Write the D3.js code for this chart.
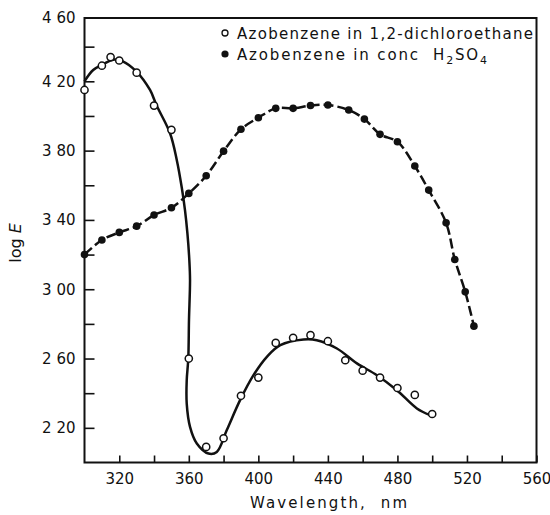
<!DOCTYPE html>
<html>
<head>
<meta charset="utf-8">
<script src="https://cdn.jsdelivr.net/npm/d3@7/dist/d3.min.js"></script>
<style>
  body { margin: 0; background: #fff; }
  svg text { font-family: "DejaVu Sans", sans-serif; fill: #111; }
</style>
</head>
<body>
<div id="chart"></div>
<script>
// open circles: azobenzene in 1,2-dichloroethane
var dceNm  = [300, 310, 315, 320, 330, 340, 350, 360, 370, 380, 390, 400, 410, 420, 430, 440, 450, 460, 470, 480, 490, 500]
var dceLog = [4.15, 4.29, 4.34, 4.32, 4.25, 4.06, 3.92, 2.60, 2.09, 2.14, 2.385, 2.49, 2.69, 2.72, 2.735, 2.70, 2.59, 2.53, 2.49, 2.43, 2.39, 2.28]
// the hand drawn fitted curve through them
var dceCurveNm  = [300, 305, 311, 316.5, 322, 330, 337.7, 341.5, 349.2, 353.1, 355.9, 357.8, 359.2, 360.3, 360.7, 360.1, 359.7, 358.8, 358.8, 360.7, 364.6, 371.3, 376.1, 381.8, 389.5, 397.2, 404.9, 412.6, 426, 433.6, 445.2, 456.7, 468.2, 479.7, 491.2, 498.8]
var dceCurveLog = [4.20, 4.265, 4.30, 4.325, 4.315, 4.255, 4.15, 4.06, 3.90, 3.745, 3.59, 3.457, 3.322, 3.168, 3.053, 2.822, 2.60, 2.475, 2.34, 2.206, 2.11, 2.052, 2.061, 2.186, 2.36, 2.504, 2.61, 2.677, 2.71, 2.706, 2.658, 2.572, 2.504, 2.417, 2.312, 2.273]
// filled circles: azobenzene in conc H2SO4
var acidNm  = [300, 310, 320, 330, 340, 350, 360, 370, 380, 390, 400, 410, 420, 430, 440, 452, 461, 470, 480, 490, 498, 508, 513, 519, 524]
var acidLog = [3.20, 3.284, 3.328, 3.364, 3.428, 3.47, 3.553, 3.655, 3.797, 3.923, 3.99, 4.044, 4.044, 4.06, 4.063, 4.034, 3.982, 3.894, 3.851, 3.711, 3.572, 3.383, 3.172, 2.985, 2.787]

var xLabelTicks = [320, 360, 400, 440, 480, 520, 560]
var yLabelTicks = [2.2, 2.6, 3.0, 3.4, 3.8, 4.2, 4.6]
var yTickText = ["2 20", "2 60", "3 00", "3 40", "3 80", "4 20", "4 60"]

var width = 550, height = 515
var plotLeft = 84.5, plotRight = 536.5, plotTop = 18, plotBottom = 462.5

var svg = d3.select("#chart").append("svg")
  .attr("width", width)
  .attr("height", height)

var x = d3.scaleLinear().domain([300, 560]).range([plotLeft, plotRight])
var y = d3.scaleLinear().domain([2, 4.6]).range([plotBottom, 12])

// frame
svg.append("rect")
  .attr("x", plotLeft).attr("y", plotTop)
  .attr("width", plotRight - plotLeft).attr("height", plotBottom - plotTop)
  .attr("fill", "none").attr("stroke", "#111").attr("stroke-width", 2)

// y axis, ticks point inward
var yTicks = d3.range(2.2, 4.61, 0.2).map(function(d) { return Math.round(d * 10) / 10 })
var yAxis = d3.axisLeft(y)
  .tickValues(yTicks)
  .tickSizeInner(-10).tickSizeOuter(0).tickPadding(9)
  .tickFormat(function(d) {
    var i = yLabelTicks.indexOf(d)
    return i >= 0 ? yTickText[i] : ""
  })
var gy = svg.append("g").attr("transform", "translate(" + plotLeft + ",0)").call(yAxis)
gy.select(".domain").remove()
gy.selectAll("line").attr("stroke", "#111").attr("stroke-width", 1.6)
gy.selectAll("text").style("font-size", "15px").attr("fill", "#111")
// top label sits on the frame line, no tick there
gy.selectAll(".tick").filter(function(d) { return d === 4.6 })
  .attr("transform", "translate(0," + plotTop + ")")
  .select("line").remove()

// x axis, ticks point up
var xTicks = d3.range(320, 561, 20)
var xAxis = d3.axisBottom(x)
  .tickValues(xTicks)
  .tickSizeInner(-7).tickSizeOuter(0).tickPadding(11)
  .tickFormat(function(d) { return xLabelTicks.indexOf(d) >= 0 ? d : "" })
var gx = svg.append("g").attr("transform", "translate(0," + plotBottom + ")").call(xAxis)
gx.select(".domain").remove()
gx.selectAll("line").attr("stroke", "#111").attr("stroke-width", 1.6)
gx.selectAll("text").style("font-size", "15px").attr("fill", "#111")

// axis titles
svg.append("text")
  .attr("x", 250).attr("y", 508)
  .attr("textLength", 157).attr("lengthAdjust", "spacing")
  .attr("xml:space", "preserve")
  .style("font-size", "15px")
  .text("Wavelength,  nm")

var yt = svg.append("text")
  .attr("transform", "translate(21,243) rotate(-90)")
  .attr("text-anchor", "middle")
  .style("font-size", "16px")
yt.append("tspan").text("log ")
yt.append("tspan").style("font-style", "italic").text("E")

// curves
var curveData = dceCurveNm.map(function(d, i) { return [d, dceCurveLog[i]] })
var acidData = acidNm.map(function(d, i) { return [d, acidLog[i]] })
var dceData = dceNm.map(function(d, i) { return [d, dceLog[i]] })

var line = d3.line()
  .curve(d3.curveCatmullRom.alpha(0.5))
  .x(function(d) { return x(d[0]) })
  .y(function(d) { return y(d[1]) })

svg.append("path")
  .datum(acidData)
  .attr("d", line)
  .attr("fill", "none").attr("stroke", "#111")
  .attr("stroke-width", 2.5).attr("stroke-dasharray", "10,4")

svg.append("path")
  .datum(curveData)
  .attr("d", line)
  .attr("fill", "none").attr("stroke", "#111")
  .attr("stroke-width", 2.5)

// points
svg.selectAll(".acid")
  .data(acidData)
  .enter().append("circle")
  .attr("class", "acid")
  .attr("cx", function(d) { return x(d[0]) })
  .attr("cy", function(d) { return y(d[1]) })
  .attr("r", 3.8)
  .attr("fill", "#111")

svg.selectAll(".dce")
  .data(dceData)
  .enter().append("circle")
  .attr("class", "dce")
  .attr("cx", function(d) { return x(d[0]) })
  .attr("cy", function(d) { return y(d[1]) })
  .attr("r", 3.6)
  .attr("fill", "#fff").attr("stroke", "#111").attr("stroke-width", 1.5)

// legend
var lg = svg.append("g")
lg.append("circle").attr("cx", 225).attr("cy", 33).attr("r", 3)
  .attr("fill", "#fff").attr("stroke", "#111").attr("stroke-width", 1.3)
lg.append("circle").attr("cx", 225).attr("cy", 54).attr("r", 3.6).attr("fill", "#111")
lg.append("text").attr("x", 237).attr("y", 38.5)
  .attr("textLength", 296).attr("lengthAdjust", "spacing")
  .style("font-size", "15px")
  .text("Azobenzene in 1,2-dichloroethane")
var t2 = lg.append("text").attr("x", 237).attr("y", 59.5)
  .attr("textLength", 250).attr("lengthAdjust", "spacing")
  .style("font-size", "15px")
  .attr("xml:space", "preserve")
t2.append("tspan").text("Azobenzene in conc  H")
t2.append("tspan").attr("dy", 4).style("font-size", "11px").text("2")
t2.append("tspan").attr("dy", -4).text("SO")
t2.append("tspan").attr("dy", 4).style("font-size", "11px").text("4")
</script>
</body>
</html>
